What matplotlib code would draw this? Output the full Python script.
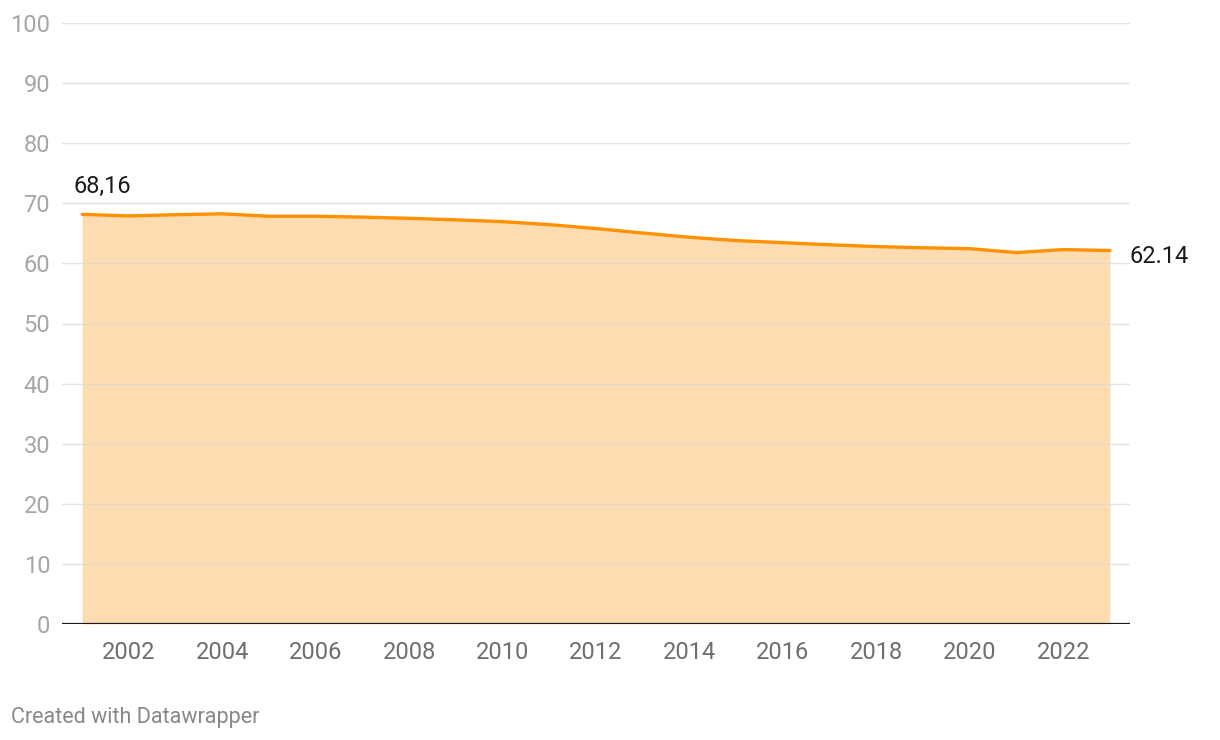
import matplotlib
matplotlib.use("Agg")
import matplotlib.pyplot as plt

# values
years = list(range(2001, 2024))
values = [68.16, 67.9, 68.1, 68.25, 67.85, 67.85, 67.7, 67.5, 67.25, 66.95,
          66.45, 65.8, 65.05, 64.35, 63.8, 63.45, 63.1, 62.8, 62.6, 62.45,
          61.8, 62.3, 62.14]
y_ticks = list(range(0, 101, 10))
x_ticks = list(range(2002, 2023, 2))
first_label = "68,16"
last_label = "62.14"

LINE = "#ff9100"
FILL = "#fcdcb0"

plt.rcParams['font.family'] = ['Roboto', 'DejaVu Sans']

fig = plt.figure(figsize=(12.2, 7.4), dpi=100)
W, H = 1220, 740
left, right, top, bottom = 62, 1130, 23, 624
ax = fig.add_axes([left / W, 1 - bottom / H, (right - left) / W, (bottom - top) / H])

ax.fill_between(years, values, 0, color=FILL, lw=0, zorder=1)
for t in y_ticks[1:]:
    ax.axhline(t, color="#d9d9d9", lw=1, alpha=0.7, zorder=2)
ax.plot(years, values, color=LINE, lw=2.4, solid_capstyle="round", zorder=3, clip_on=False)
ax.axhline(0, color="#1a1a1a", lw=1.6, zorder=4)

ax.set_xlim(2000.57, 2023.43)
ax.set_ylim(0, 100)
ax.set_yticks(y_ticks)
ax.set_xticks(x_ticks)
ax.tick_params(axis="y", length=0, pad=8.5, labelsize=17, labelcolor="#a6a6a6")
ax.tick_params(axis="x", length=0, pad=12, labelsize=17, labelcolor="#6e6e6e")
for s in ax.spines.values():
    s.set_visible(False)

ax.annotate(first_label, (years[0], values[0]), xytext=(-6, 12), textcoords="offset points",
            ha="left", va="bottom", fontsize=17, color="#1a1a1a")
ax.annotate(last_label, (years[-1], values[-1]), xytext=(14, -4), textcoords="offset points",
            ha="left", va="center", fontsize=17, color="#1a1a1a", annotation_clip=False)

fig.text(11 / W, 1 - 717 / H, "Created with Datawrapper", fontsize=15.5, color="#888888",
         ha="left", va="center")

fig.savefig("out.png", dpi=100)
